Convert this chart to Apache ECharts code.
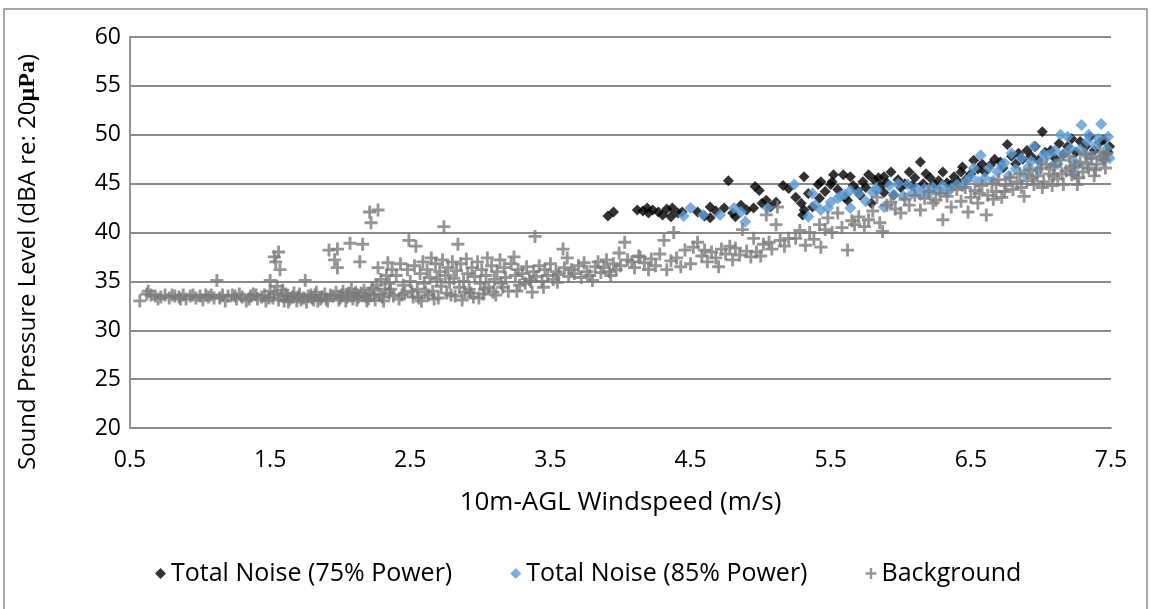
<!DOCTYPE html>
<html>
<head>
<meta charset="utf-8">
<script src="https://cdn.jsdelivr.net/npm/echarts@6/dist/echarts.min.js"></script>
<style>
html,body{margin:0;padding:0;background:#fff;}
#c{width:1151px;height:609px;}
</style>
</head>
<body>
<div id="c"></div>
<script>
const xTicks = [0.5, 1.5, 2.5, 3.5, 4.5, 5.5, 6.5, 7.5];
const yTicks = [20, 25, 30, 35, 40, 45, 50, 55, 60];
const seriesNames = ['Total Noise (75% Power)', 'Total Noise (85% Power)', 'Background'];

const noise75 = [[3.91,41.7],[3.95,42.1],[4.12,42.3],[4.16,42.2],[4.19,42.5],[4.2,42.0],[4.23,42.3],[4.27,42.1],[4.3,41.8],[4.33,42.4],[4.36,41.6],[4.37,42.5],[4.41,42.0],[4.44,42.1],[4.55,42.1],[4.6,41.7],[4.64,42.6],[4.64,41.5],[4.68,42.2],[4.74,42.5],[4.77,45.3],[4.8,42.0],[4.82,41.6],[4.86,42.8],[4.9,42.3],[4.95,42.5],[4.96,44.7],[4.99,44.3],[5.01,43.0],[5.04,43.3],[5.07,42.6],[5.11,43.1],[5.16,44.8],[5.2,44.5],[5.25,43.6],[5.29,43.0],[5.3,41.8],[5.31,42.3],[5.31,45.7],[5.34,44.0],[5.37,42.6],[5.41,44.9],[5.42,43.5],[5.43,45.2],[5.46,44.2],[5.5,44.9],[5.51,45.2],[5.52,45.9],[5.55,44.4],[5.59,45.9],[5.6,43.6],[5.62,43.3],[5.64,45.7],[5.66,44.8],[5.69,44.3],[5.71,43.8],[5.73,45.2],[5.75,44.6],[5.77,45.9],[5.79,43.0],[5.81,45.4],[5.84,45.6],[5.86,44.8],[5.88,45.7],[5.88,44.1],[5.9,45.1],[5.93,46.2],[5.95,43.8],[5.98,45.4],[6.0,44.6],[6.03,45.0],[6.06,46.2],[6.08,44.8],[6.1,45.6],[6.14,47.2],[6.16,45.0],[6.18,46.0],[6.21,45.6],[6.24,44.9],[6.27,45.3],[6.3,46.2],[6.33,45.1],[6.36,44.9],[6.38,45.7],[6.41,45.2],[6.43,46.2],[6.44,46.7],[6.47,45.5],[6.5,46.0],[6.52,47.4],[6.55,46.5],[6.58,47.0],[6.6,46.2],[6.64,46.9],[6.67,47.5],[6.71,47.2],[6.73,46.6],[6.76,49.0],[6.79,47.8],[6.82,47.0],[6.84,48.1],[6.87,47.5],[6.9,48.4],[6.93,47.8],[6.96,48.8],[6.98,47.4],[7.01,50.3],[7.03,48.2],[7.07,48.4],[7.1,47.6],[7.13,49.1],[7.16,48.0],[7.19,48.8],[7.22,49.6],[7.25,48.2],[7.28,49.3],[7.32,48.8],[7.35,49.8],[7.38,48.4],[7.42,49.2],[7.45,49.5],[7.49,48.8],[7.48,48.2]];

const noise85 = [[4.45,41.7],[4.5,42.5],[4.59,41.8],[4.71,41.8],[4.81,42.5],[4.86,42.1],[4.89,41.1],[5.05,42.5],[5.24,44.9],[5.34,41.6],[5.37,44.0],[5.39,42.8],[5.43,42.3],[5.48,42.5],[5.5,43.1],[5.55,43.5],[5.57,43.7],[5.6,43.9],[5.64,42.5],[5.64,44.3],[5.7,44.0],[5.75,43.2],[5.8,44.1],[5.82,44.5],[5.83,44.3],[5.88,42.6],[5.92,44.8],[5.95,43.9],[5.98,45.0],[6.02,43.7],[6.05,44.9],[6.08,44.0],[6.11,44.5],[6.14,43.8],[6.17,44.5],[6.2,44.0],[6.23,44.6],[6.27,44.3],[6.3,44.8],[6.33,44.1],[6.36,44.5],[6.4,44.9],[6.44,44.7],[6.47,45.3],[6.5,45.7],[6.52,46.6],[6.55,45.2],[6.57,47.9],[6.6,45.6],[6.63,46.6],[6.66,45.3],[6.69,46.2],[6.72,46.8],[6.74,47.1],[6.77,45.8],[6.79,48.1],[6.82,46.5],[6.86,47.6],[6.88,46.0],[6.91,46.7],[6.93,47.3],[6.95,48.8],[6.98,46.4],[7.0,47.2],[7.02,48.0],[7.05,47.9],[7.08,46.8],[7.1,48.4],[7.12,47.0],[7.14,50.0],[7.16,48.0],[7.19,49.8],[7.21,48.6],[7.23,47.4],[7.24,45.9],[7.26,46.9],[7.28,48.5],[7.29,51.0],[7.31,48.1],[7.33,49.3],[7.34,50.0],[7.36,47.8],[7.39,48.9],[7.41,49.6],[7.43,51.1],[7.45,47.4],[7.47,48.6],[7.48,49.8],[7.49,47.6]];

const background = [
[0.57,33.0],[0.63,34.0],[0.65,33.6],[0.68,33.5],[0.72,33.4],[0.75,33.6],[0.78,33.3],[0.82,33.5],[0.85,33.4],[0.88,33.6],[0.9,33.2],[0.93,33.5],[0.97,33.3],[1.0,33.5],[1.02,33.1],[1.06,33.4],[1.08,33.6],[1.12,35.1],[1.14,33.3],[1.18,33.0],[1.2,33.5],[1.23,33.6],[1.26,33.2],[1.3,33.4],[1.33,33.0],[1.36,33.5],[1.38,33.7],[1.41,33.2],[1.44,33.4],[1.47,33.0],[1.5,34.0],[1.5,35.1],[1.52,33.3],[1.53,37.5],[1.54,37.0],[1.56,38.0],[1.57,36.2],[1.55,34.5],[1.58,33.6],[1.6,33.0],[1.62,33.5],[1.64,33.2],[1.67,33.8],[1.7,33.4],[1.72,33.1],[1.75,35.1],[1.77,33.5],[1.8,33.3],[1.82,33.6],[1.84,33.0],[1.87,33.4],[1.9,33.2],[1.92,38.2],[1.96,37.2],[1.98,36.4],[1.98,38.3],[1.95,33.5],[2.0,33.3],[2.02,34.0],[2.05,33.4],[2.07,38.9],[2.1,33.6],[2.12,33.1],[2.14,37.0],[2.15,33.8],[2.16,38.8],[2.18,33.5],[2.2,33.2],[2.21,42.1],[2.22,41.0],[2.24,33.6],[2.27,42.3],[2.27,36.4],[2.3,33.4],[2.32,34.2],[2.34,36.9],[2.35,33.8],
[1.53,33.8],[1.56,33.1],[1.59,34.1],[1.61,33.7],[1.63,32.9],[1.66,33.4],[1.69,33.0],[1.71,33.7],[1.74,33.3],[1.76,32.9],[1.79,33.6],[1.81,33.1],[1.83,33.9],[1.86,33.2],[1.89,33.7],[1.91,33.0],[1.93,33.6],[1.97,33.9],[1.99,33.1],[2.01,33.6],[2.04,33.0],[2.06,33.8],[2.08,34.2],[2.09,33.2],[2.11,33.9],[2.13,33.4],[2.17,34.1],[2.19,33.0],[2.21,33.8],[2.23,34.3],[2.25,33.1],[2.26,34.6],[2.28,33.7],[2.29,35.2],[2.31,33.0],[2.33,35.6],[2.35,34.8],[2.37,36.2],[0.62,33.7],[0.7,33.2],[0.8,33.6],[0.86,33.2],[0.95,33.6],[1.04,33.6],[1.1,33.3],[1.16,33.6],[1.25,33.5],[1.28,33.7],[1.35,33.2],[1.4,33.6],[1.46,33.6],[1.49,33.3],
[2.36,34.2],[2.38,33.5],[2.4,35.6],[2.42,33.2],[2.43,36.8],[2.45,34.6],[2.46,33.8],[2.48,36.2],[2.49,39.2],[2.5,35.0],[2.52,33.4],[2.53,36.6],[2.54,38.6],[2.55,34.2],[2.57,35.8],[2.58,33.0],[2.59,37.0],[2.6,34.8],[2.62,36.2],[2.63,33.6],[2.64,35.4],[2.65,37.4],[2.66,34.0],[2.68,36.8],[2.69,35.2],[2.7,33.3],[2.71,36.0],[2.72,34.5],[2.73,37.2],[2.74,40.6],[2.75,35.6],[2.76,33.8],[2.77,36.4],[2.78,34.9],[2.8,37.0],[2.81,35.3],[2.82,33.5],[2.83,36.1],[2.84,38.8],[2.85,34.4],[2.86,36.8],[2.88,35.0],[2.89,33.9],[2.9,37.3],[2.91,35.8],[2.92,34.2],[2.94,36.4],[2.95,33.4],[2.96,35.5],[2.98,37.0],[3.0,34.8],[3.01,36.2],[3.02,33.7],[3.04,35.6],[3.05,37.4],[3.06,34.4],[3.08,36.6],[3.1,35.2],[3.11,33.6],[3.12,36.0],[3.14,37.2],[3.15,34.8],[3.17,36.4],[3.18,35.4],[3.2,34.0],[3.22,36.8],[3.24,37.5],[3.25,35.6],[3.27,36.2],[3.28,34.6],[3.3,35.8],[3.32,34.8],[3.33,36.5],[3.35,35.2],[3.37,33.9],[3.38,36.0],[3.39,39.6],[3.4,35.5],[3.42,36.6],[3.44,35.0],[3.46,36.2],[3.48,35.6],[3.5,36.8],[3.52,35.2],[3.54,36.0],[3.56,35.7],[3.59,38.3],[3.6,36.4],[3.62,37.4],[3.63,35.5],[3.65,36.2],[3.67,35.8],[3.7,36.6],[3.72,35.4],[3.74,36.9],[3.76,36.0],[3.78,35.6],[3.8,35.1],[3.82,36.5],[3.84,37.0],[3.86,35.9],[3.88,36.4],[3.9,37.2],[3.92,36.0],[3.93,35.6],[3.95,36.8],[3.97,36.2],[3.99,37.9],[4.0,36.6],[4.05,37.2],[4.14,37.5],
[2.44,33.6],[2.51,34.0],[2.56,33.3],[2.61,33.9],[2.67,33.2],[2.79,33.6],[2.87,33.1],[2.93,33.8],[2.99,33.3],[3.03,34.2],[3.09,33.9],[3.16,34.4],[3.26,34.0],[3.36,35.0],[3.45,34.4],[3.55,34.9],
[4.03,39.0],[4.08,37.0],[4.1,36.4],[4.13,37.6],[4.17,36.9],[4.2,36.2],[4.22,37.3],[4.25,36.6],[4.28,37.8],[4.31,39.2],[4.33,36.2],[4.36,37.1],[4.38,40.0],[4.4,37.4],[4.43,36.5],[4.46,38.2],[4.5,36.8],[4.52,38.5],[4.55,39.0],[4.58,37.6],[4.6,38.2],[4.62,37.0],[4.65,38.0],[4.68,37.4],[4.7,36.5],[4.72,38.3],[4.75,37.8],[4.78,38.6],[4.8,37.2],[4.82,38.4],[4.85,37.7],[4.87,40.3],[4.9,38.1],[4.93,37.5],[4.95,39.4],[4.97,38.0],[5.0,37.6],[5.02,38.8],[5.04,41.8],[5.06,39.0],[5.08,38.3],[5.11,40.8],[5.12,42.6],[5.14,39.2],[5.17,38.6],[5.2,39.4],[5.25,39.4],[5.28,40.2],[5.32,38.7],[5.35,40.0],[5.38,39.3],[5.42,40.8],[5.43,38.5],[5.46,40.3],[5.48,41.5],[5.51,40.0],[5.55,42.0],[5.58,40.5],[5.62,38.2],[5.65,41.2],[5.67,40.8],[5.7,41.6],[5.74,40.6],[5.77,41.3],[5.8,42.2],[5.83,43.6],[5.85,41.0],[5.87,40.1],[5.9,42.8],[5.93,43.1],[5.96,42.4],[6.0,42.0],[6.03,43.4],[6.06,42.8],[6.1,43.8],[6.14,42.3],[6.17,43.5],[6.2,44.2],[6.23,43.0],[6.25,43.3],[6.28,44.0],[6.3,41.3],[6.33,43.7],[6.36,42.6],[6.4,44.4],[6.43,43.2],[6.46,44.6],[6.48,42.1],[6.5,43.6],[6.53,44.3],[6.55,43.0],[6.58,44.8],[6.61,41.8],[6.62,43.8],[6.65,45.0],[6.68,44.2],[6.7,45.4],[6.72,43.6],[6.75,44.8],[6.78,45.6],[6.8,44.4],[6.83,45.2],[6.85,46.0],[6.88,43.7],[6.9,45.3],[6.92,46.4],[6.95,44.9],[6.97,45.8],[7.0,46.6],[7.02,45.2],[7.04,47.0],[7.06,46.0],[7.08,44.8],[7.1,46.8],[7.12,45.5],[7.14,47.4],[7.16,44.9],[7.18,46.3],[7.2,47.8],[7.22,45.9],[7.24,46.8],[7.26,44.9],[7.28,47.2],[7.3,46.2],[7.32,48.0],[7.34,46.6],[7.36,47.6],[7.38,45.8],[7.4,47.0],[7.42,48.2],[7.45,47.4],[7.47,48.1],[7.46,46.6],
[6.56,44.0],[6.66,43.4],[6.74,44.2],[6.86,44.6],[6.94,45.6],[7.01,44.6],[7.09,45.8],[7.15,46.0],[7.21,46.6],[7.27,45.6],[7.33,47.0],[7.39,46.4],[7.44,47.8]
];

const FONT = 'Open Sans';
const plusPath = 'path://M3.9,0 L6.1,0 L6.1,3.9 L10,3.9 L10,6.1 L6.1,6.1 L6.1,10 L3.9,10 L3.9,6.1 L0,6.1 L0,3.9 L3.9,3.9 Z';
const chart = echarts.init(document.getElementById('c'), null, {renderer: 'canvas'});
chart.setOption({
  animation: false,
  backgroundColor: '#fff',
  textStyle: {fontFamily: FONT},
  grid: {left: 130, right: 40, top: 37, bottom: 181, containLabel: false},
  xAxis: {
    type: 'value', min: xTicks[0], max: xTicks[xTicks.length - 1], interval: 1,
    name: '10m-AGL Windspeed (m/s)', nameLocation: 'middle', nameGap: 62,
    nameTextStyle: {fontFamily: FONT, fontSize: 26, color: '#000'},
    axisLine: {show: true, lineStyle: {color: '#8a8a8a', width: 1.8}},
    axisTick: {show: false},
    splitLine: {show: false},
    axisLabel: {fontFamily: FONT, fontSize: 23, color: '#000', margin: 21,
      formatter: v => v.toFixed(1)}
  },
  yAxis: {
    type: 'value', min: yTicks[0], max: yTicks[yTicks.length - 1], interval: 5,
    axisLine: {show: true, lineStyle: {color: '#8a8a8a', width: 1.8}},
    axisTick: {show: false},
    splitLine: {show: true, lineStyle: {color: '#8a8a8a', width: 1.8}},
    axisLabel: {fontFamily: FONT, fontSize: 23, color: '#000', margin: 9}
  },
  legend: {
    top: 556, left: 150, itemGap: 58, itemWidth: 11, itemHeight: 11,
    textStyle: {fontFamily: FONT, fontSize: 25, color: '#000'},
    data: [
      {name: seriesNames[0], icon: 'diamond'},
      {name: seriesNames[1], icon: 'diamond'},
      {name: seriesNames[2], icon: plusPath}
    ]
  },
  graphic: [
    {type: 'rect', shape: {x: 4, y: 9, width: 1143, height: 640}, style: {fill: 'none', stroke: '#8a8a8a', lineWidth: 1.5}, silent: true},
    {type: 'text', x: 28, y: 262, rotation: Math.PI / 2,
      style: {text: 'Sound Pressure Level (dBA re: 20{b|µPa})', font: '24px "Open Sans"', fill: '#000',
        align: 'center', verticalAlign: 'middle',
        rich: {b: {fontFamily: 'Liberation Serif', fontWeight: 'bold', fontSize: 24, fill: '#000'}}}}
  ],
  series: [
    {name: seriesNames[0], type: 'scatter', data: noise75, symbol: 'diamond', symbolSize: 11,
      itemStyle: {color: '#000'}, z: 2},
    {name: seriesNames[1], type: 'scatter', data: noise85, symbol: 'diamond', symbolSize: 12,
      itemStyle: {color: '#5B9BD5'}, z: 3},
    {name: seriesNames[2], type: 'scatter', data: background, symbol: plusPath, symbolSize: 13,
      itemStyle: {color: '#7a7a7a'}, z: 4}
  ]
});
</script>
</body>
</html>
